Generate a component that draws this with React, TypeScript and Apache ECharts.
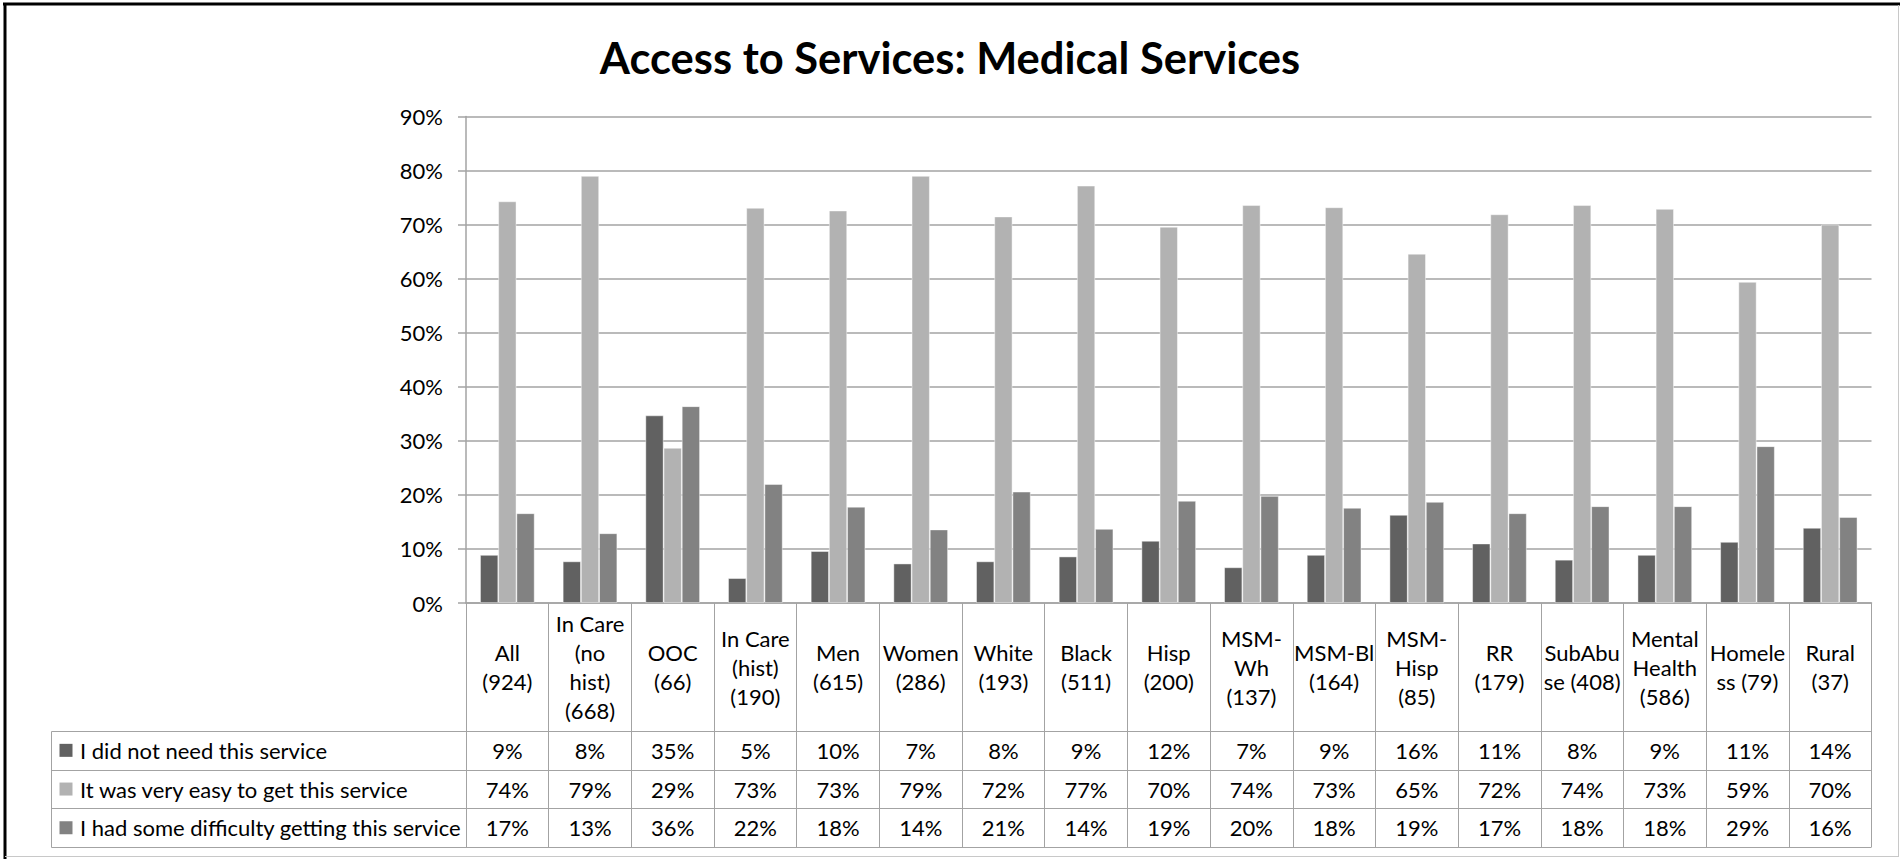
import React, { useEffect, useRef } from "react";
import * as echarts from "echarts";

const titleText = "Access to Services: Medical Services";

const categories = [
  "All\n(924)",
  "In Care\n(no\nhist)\n(668)",
  "OOC\n(66)",
  "In Care\n(hist)\n(190)",
  "Men\n(615)",
  "Women\n(286)",
  "White\n(193)",
  "Black\n(511)",
  "Hisp\n(200)",
  "MSM-\nWh\n(137)",
  "MSM-Bl\n(164)",
  "MSM-\nHisp\n(85)",
  "RR\n(179)",
  "SubAbu\nse (408)",
  "Mental\nHealth\n(586)",
  "Homele\nss (79)",
  "Rural\n(37)",
];

const seriesNames = [
  "I did not need this service",
  "It was very easy to get this service",
  "I had some difficulty getting this service",
];

const notNeeded = [8.9, 7.7, 34.7, 4.6, 9.6, 7.3, 7.7, 8.6, 11.5, 6.6, 8.9, 16.3, 11.0, 8.0, 8.9, 11.3, 13.9];
const veryEasy = [74.3, 79.0, 28.7, 73.1, 72.6, 79.0, 71.5, 77.2, 69.6, 73.6, 73.2, 64.6, 71.9, 73.6, 72.9, 59.4, 70.0];
const someDifficulty = [16.6, 12.9, 36.4, 22.0, 17.8, 13.6, 20.6, 13.7, 18.9, 19.8, 17.6, 18.7, 16.6, 17.9, 17.9, 29.0, 15.9];

const seriesValues = [notNeeded, veryEasy, someDifficulty];
const seriesColors = ["#616161", "#b2b2b2", "#828282"];

const yMin = 0;
const yMax = 90;
const yStep = 10;

const FONT = "Lato, 'Open Sans', sans-serif";
const LINE = "#a3a3a3";

export default function App() {
  const ref = useRef<HTMLDivElement>(null);

  useEffect(() => {
    if (!ref.current) return;
    const chart = echarts.init(ref.current, null, { renderer: "svg" });

    const gridLeft = 466;
    const gridRight = 1871.5;
    const gridTop = 116.5;
    const gridBottom = 603;
    const headerH = 128;
    const rowH = 38.7;
    const tableLeft = 51.5;

    const option: any = {
      animation: false,
      backgroundColor: "#ffffff",
      title: {
        text: titleText,
        left: "center",
        top: 30,
        textStyle: {
          fontFamily: FONT,
          fontWeight: "bold",
          fontSize: 43.5,
          lineHeight: 44,
          color: "#000000",
        },
      },
      grid: {
        left: gridLeft,
        right: 1900 - gridRight,
        top: gridTop,
        bottom: 859 - gridBottom,
        containLabel: false,
      },
      xAxis: {
        type: "category",
        data: categories,
        boundaryGap: true,
        axisLine: { show: true, lineStyle: { color: LINE, width: 1.5 } },
        axisTick: {
          show: true,
          interval: 0,
          length: headerH + rowH * 3,
          lineStyle: { color: LINE, width: 1 },
        },
        axisLabel: {
          show: true,
          interval: 0,
          margin: headerH / 2,
          verticalAlign: "middle",
          fontFamily: FONT,
          fontSize: 22,
          lineHeight: 29,
          color: "#000000",
          hideOverlap: false,
        },
        splitLine: { show: false },
      },
      yAxis: {
        type: "value",
        min: yMin,
        max: yMax,
        interval: yStep,
        axisLine: { show: true, lineStyle: { color: LINE, width: 1.5 } },
        axisTick: { show: true, length: 8, lineStyle: { color: LINE, width: 1.5 } },
        axisLabel: {
          formatter: "{value}%",
          margin: 23,
          fontFamily: FONT,
          fontSize: 22,
          color: "#000000",
        },
        splitLine: { show: true, lineStyle: { color: LINE, width: 1.5 } },
      },
      series: seriesValues.map((vals, si) => ({
        name: seriesNames[si],
        type: "bar",
        data: vals,
        barGap: "0%",
        barCategoryGap: "34%",
        itemStyle: {
          color: seriesColors[si],
          borderColor: "rgba(255,255,255,0.55)",
          borderWidth: 0.8,
        },
      })),
    };

    chart.setOption(option);

    const xs = categories.map((_, i) => chart.convertToPixel({ xAxisIndex: 0 }, i) as number);
    const axisY = chart.convertToPixel({ yAxisIndex: 0 }, 0) as number;
    const rowTop = axisY + headerH;

    const graphics: any[] = [];

    // table horizontal lines
    for (let r = 0; r <= 3; r++) {
      const y = Math.round(rowTop + r * rowH) + 0.5;
      graphics.push({
        type: "line",
        shape: { x1: tableLeft, y1: y, x2: gridRight, y2: y },
        style: { stroke: LINE, lineWidth: 1 },
        silent: true,
      });
    }
    // table left border
    graphics.push({
      type: "line",
      shape: { x1: tableLeft, y1: Math.round(rowTop) + 0.5, x2: tableLeft, y2: Math.round(rowTop + 3 * rowH) + 0.5 },
      style: { stroke: LINE, lineWidth: 1 },
      silent: true,
    });

    // legend keys, names and values
    seriesNames.forEach((name, si) => {
      const cy = rowTop + (si + 0.5) * rowH;
      graphics.push({
        type: "rect",
        shape: { x: 59.5, y: cy - 6.5, width: 13, height: 13 },
        style: { fill: seriesColors[si] },
        silent: true,
      });
      graphics.push({
        type: "text",
        x: 80,
        y: cy,
        style: {
          text: name,
          fontFamily: FONT,
          fontSize: 22,
          fill: "#000000",
          align: "left",
          verticalAlign: "middle",
        },
        silent: true,
      });
      seriesValues[si].forEach((v, ci) => {
        graphics.push({
          type: "text",
          x: xs[ci],
          y: cy,
          style: {
            text: Math.round(v) + "%",
            fontFamily: FONT,
            fontSize: 22,
            fill: "#000000",
            align: "center",
            verticalAlign: "middle",
          },
          silent: true,
        });
      });
    });

    // outer border
    graphics.push(
      { type: "line", shape: { x1: 3, y1: 4, x2: 1900, y2: 4 }, style: { stroke: "#000000", lineWidth: 3 }, silent: true },
      { type: "line", shape: { x1: 5, y1: 3, x2: 5, y2: 859 }, style: { stroke: "#000000", lineWidth: 3 }, silent: true },
      { type: "line", shape: { x1: 1898.5, y1: 5, x2: 1898.5, y2: 857 }, style: { stroke: "#c8c8c8", lineWidth: 1 }, silent: true },
      { type: "line", shape: { x1: 5, y1: 856.5, x2: 1899, y2: 856.5 }, style: { stroke: "#c8c8c8", lineWidth: 1 }, silent: true }
    );

    chart.setOption({ graphic: graphics });

    return () => {
      chart.dispose();
    };
  }, []);

  return (
    <div
      ref={ref}
      style={{ position: "fixed", left: 0, top: 0, width: 1900, height: 859, background: "#ffffff" }}
    />
  );
}
